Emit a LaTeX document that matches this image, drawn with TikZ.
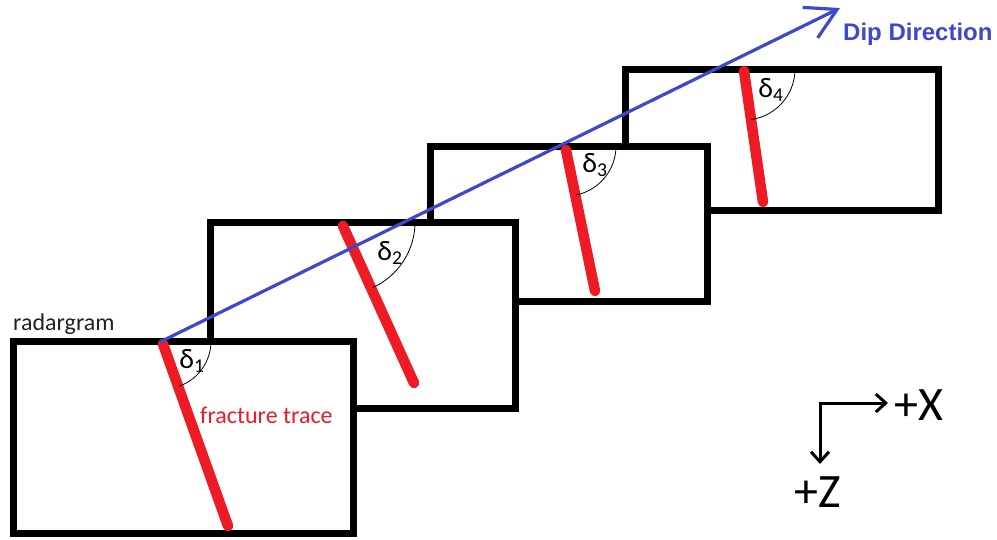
\documentclass[tikz,border=0pt]{standalone}
\usepackage{fontspec}
\setmainfont{Carlito}
\newfontfamily\headfont{Liberation Sans}
\usetikzlibrary{arrows.meta}

\definecolor{paintred}{HTML}{ED1C24}
\definecolor{paintblue}{HTML}{3F48CC}
\definecolor{labelgray}{HTML}{222222}

\tikzset{
  radar/.style={draw=black, line width=7pt, fill=white, inner sep=0pt, outer sep=0pt},
  trace/.style={draw=paintred, line width=10.5pt, line cap=round},
  dipline/.style={draw=paintblue, line width=3.2pt, -{Straight Barb[length=30pt,width=34pt]}},
  anglearc/.style={draw=black, line width=0.8pt},
  axis/.style={draw=black, line width=3pt,
    {Straight Barb[length=10pt,width=18pt]}-{Straight Barb[length=10pt,width=18pt]}},
  lbl/.style={inner sep=0pt, font=\fontsize{24}{28}\selectfont},
  anglelbl/.style={inner sep=0pt, font=\fontsize{28}{30}\selectfont},
  axislbl/.style={inner sep=0pt, anchor=base west, font=\fontsize{48}{52}\selectfont},
}

\begin{document}
\begin{tikzpicture}[x=1pt, y=-1pt]
  \useasboundingbox[fill=white] (0,0) rectangle (997,539);

  % radargram panels, back to front
  \node[radar, minimum width=313pt, minimum height=141pt] (r4) at (781.5,139.5) {};
  \node[radar, minimum width=277pt, minimum height=155pt] (r3) at (568.5,223.5) {};
  \node[radar, minimum width=305pt, minimum height=186pt] (r2) at (362.5,315) {};
  \node[radar, minimum width=340pt, minimum height=192pt] (r1) at (183,437) {};

  % fracture traces
  \coordinate (t1) at (163,344); \coordinate (b1) at (228,526);
  \coordinate (t2) at (343,226); \coordinate (b2) at (414,383);
  \coordinate (t3) at (566,150); \coordinate (b3) at (595,291);
  \coordinate (t4) at (744,71);  \coordinate (b4) at (763,202);
  \draw[trace] (t1) -- (b1);
  \draw[trace] (t2) -- (b2);
  \draw[trace] (t3) -- (b3);
  \draw[trace] (t4) -- (b4);

  % dip angles between panel top and trace
  \draw[anglearc] plot[domain=0:70.5, samples=40, smooth] ({163+48*cos(\x)},{341+48*sin(\x)});
  \draw[anglearc] plot[domain=0:65.6, samples=40, smooth] ({343+72*cos(\x)},{222+72*sin(\x)});
  \draw[anglearc] plot[domain=0:78.6, samples=40, smooth] ({566+50*cos(\x)},{146+50*sin(\x)});
  \draw[anglearc] plot[domain=0:81.9, samples=40, smooth] ({744+51*cos(\x)},{69+51*sin(\x)});

  \node[anglelbl] (d1) at (192,361) {δ\textsubscript{1}};
  \node[anglelbl] (d2) at (390,253) {δ\textsubscript{2}};
  \node[anglelbl] (d3) at (595,165) {δ\textsubscript{3}};
  \node[anglelbl] (d4) at (771,90)  {δ\textsubscript{4}};

  % dip direction
  \coordinate (dipstart) at (160,342);
  \coordinate (diptip) at (840,8);
  \draw[dipline] (dipstart) -- (diptip);
  \node[inner sep=0pt, anchor=base west, text=paintblue,
        font=\headfont\bfseries\fontsize{24}{28}\selectfont] (dip) at (843,40) {Dip Direction};

  % labels
  \node[lbl, anchor=base west, text=labelgray] (radar) at (13,330) {radargram};
  \node[lbl, anchor=base west, text=paintred] (frac) at (200,423) {fracture trace};

  % axes
  \coordinate (origin) at (820,403);
  \coordinate (xend) at (888,403);
  \coordinate (zend) at (820,464);
  \draw[axis] (xend) -- (origin) -- (zend);
  \node[axislbl] (xlbl) at (894,420) {+X};
  \node[axislbl] (zlbl) at (794,507) {+Z};
\end{tikzpicture}
\end{document}
